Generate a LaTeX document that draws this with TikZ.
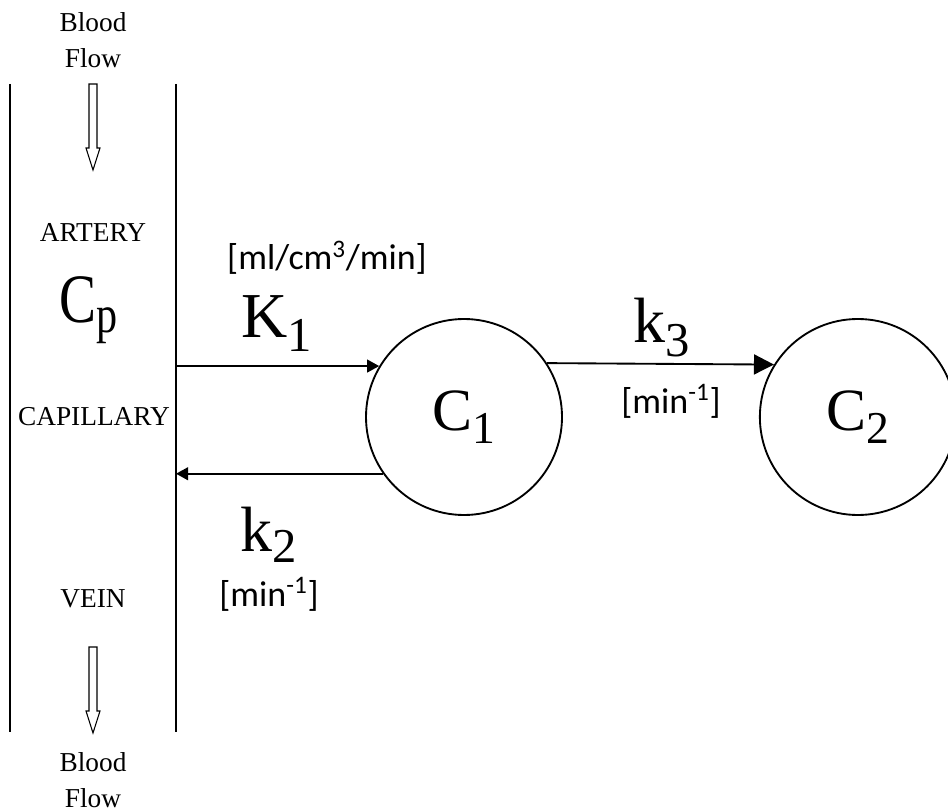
\documentclass[tikz,border=0pt]{standalone}
\usepackage{fontspec}
\setmainfont{Liberation Serif}
\newfontfamily\unitfont{Carlito}
\usetikzlibrary{arrows.meta, positioning}
\newcommand{\idx}[2][0.21em]{\raisebox{-#1}{\scalebox{0.76}{#2}}}

\begin{document}
\begin{tikzpicture}[x=0.75pt, y=-0.75pt,
    every node/.style={inner sep=0pt},
    site/.style={font=\fontsize{20.5}{27}\selectfont, align=center, anchor=base},
    rate/.style={font=\fontsize{48}{48}\selectfont, anchor=base},
    unit/.style={font=\unitfont\fontsize{27}{27}\selectfont, anchor=base},
    comp/.style={draw, circle, line width=1.4pt, minimum size=147pt,
                 font=\fontsize{45}{45}\selectfont},
    wall/.style={line width=1.5pt},
    flux/.style={line width=1.4pt, -{Triangle[length=9pt, width=9.5pt]}},
    flowarrow/.pic={\draw[line width=0.8pt] (-4,0) -- (-4,64) -- (-7,64) -- (0,86)
                    -- (7,64) -- (4,64) -- (4,0) -- cycle;},
  ]
  \useasboundingbox (0,0) rectangle (948,812);

  % vessel
  \draw[wall] (9.5,84) -- (9.5,732);
  \draw[wall] (176,84) coordinate (wallT) -- (176,732);
  \pic at (93,84) {flowarrow};
  \pic at (93,647) {flowarrow};

  \node[site] (inflow) at (93,68) {Blood\\Flow};
  \node[site] (outflow) at (93,807) {Blood\\Flow};
  \node[site] (artery) at (93,242) {ARTERY};
  \node[site] (capil) at (94,425) {CAPILLARY};
  \node[site] (vein) at (93,607) {VEIN};
  \node[rate, xscale=.8, font=\fontsize{52}{52}\selectfont] (cp) at (89,323) {C\idx[0.13em]{p}};

  % compartments
  \node[comp] (c1) at (464,417) {C\idx{1}};
  \node[comp, right=147pt of c1] (c2) {C\idx{2}};

  \draw[flux] (c1.149 -| wallT) -- (c1.149);
  \draw[flux] (c1.215) -- (c1.215 -| wallT);
  \draw[flux, -{Triangle[length=15pt, width=15pt]}] (c1.33) -- (c2.148);

  \node[rate] (kin) at (277,338) {K\idx{1}};
  \node[unit] (kinunit) at (327,270) {[ml/cm\textsuperscript{3}/min]};
  \node[rate] (kout) at (269,551) {k\idx[0.18em]{2}};
  \node[unit] (koutunit) at (269,606) {[min\textsuperscript{-1}]};
  \node[rate] (kbind) at (662,343) {k\idx{3}};
  \node[unit] (kbindunit) at (671,413) {[min\textsuperscript{-1}]};
\end{tikzpicture}
\end{document}
